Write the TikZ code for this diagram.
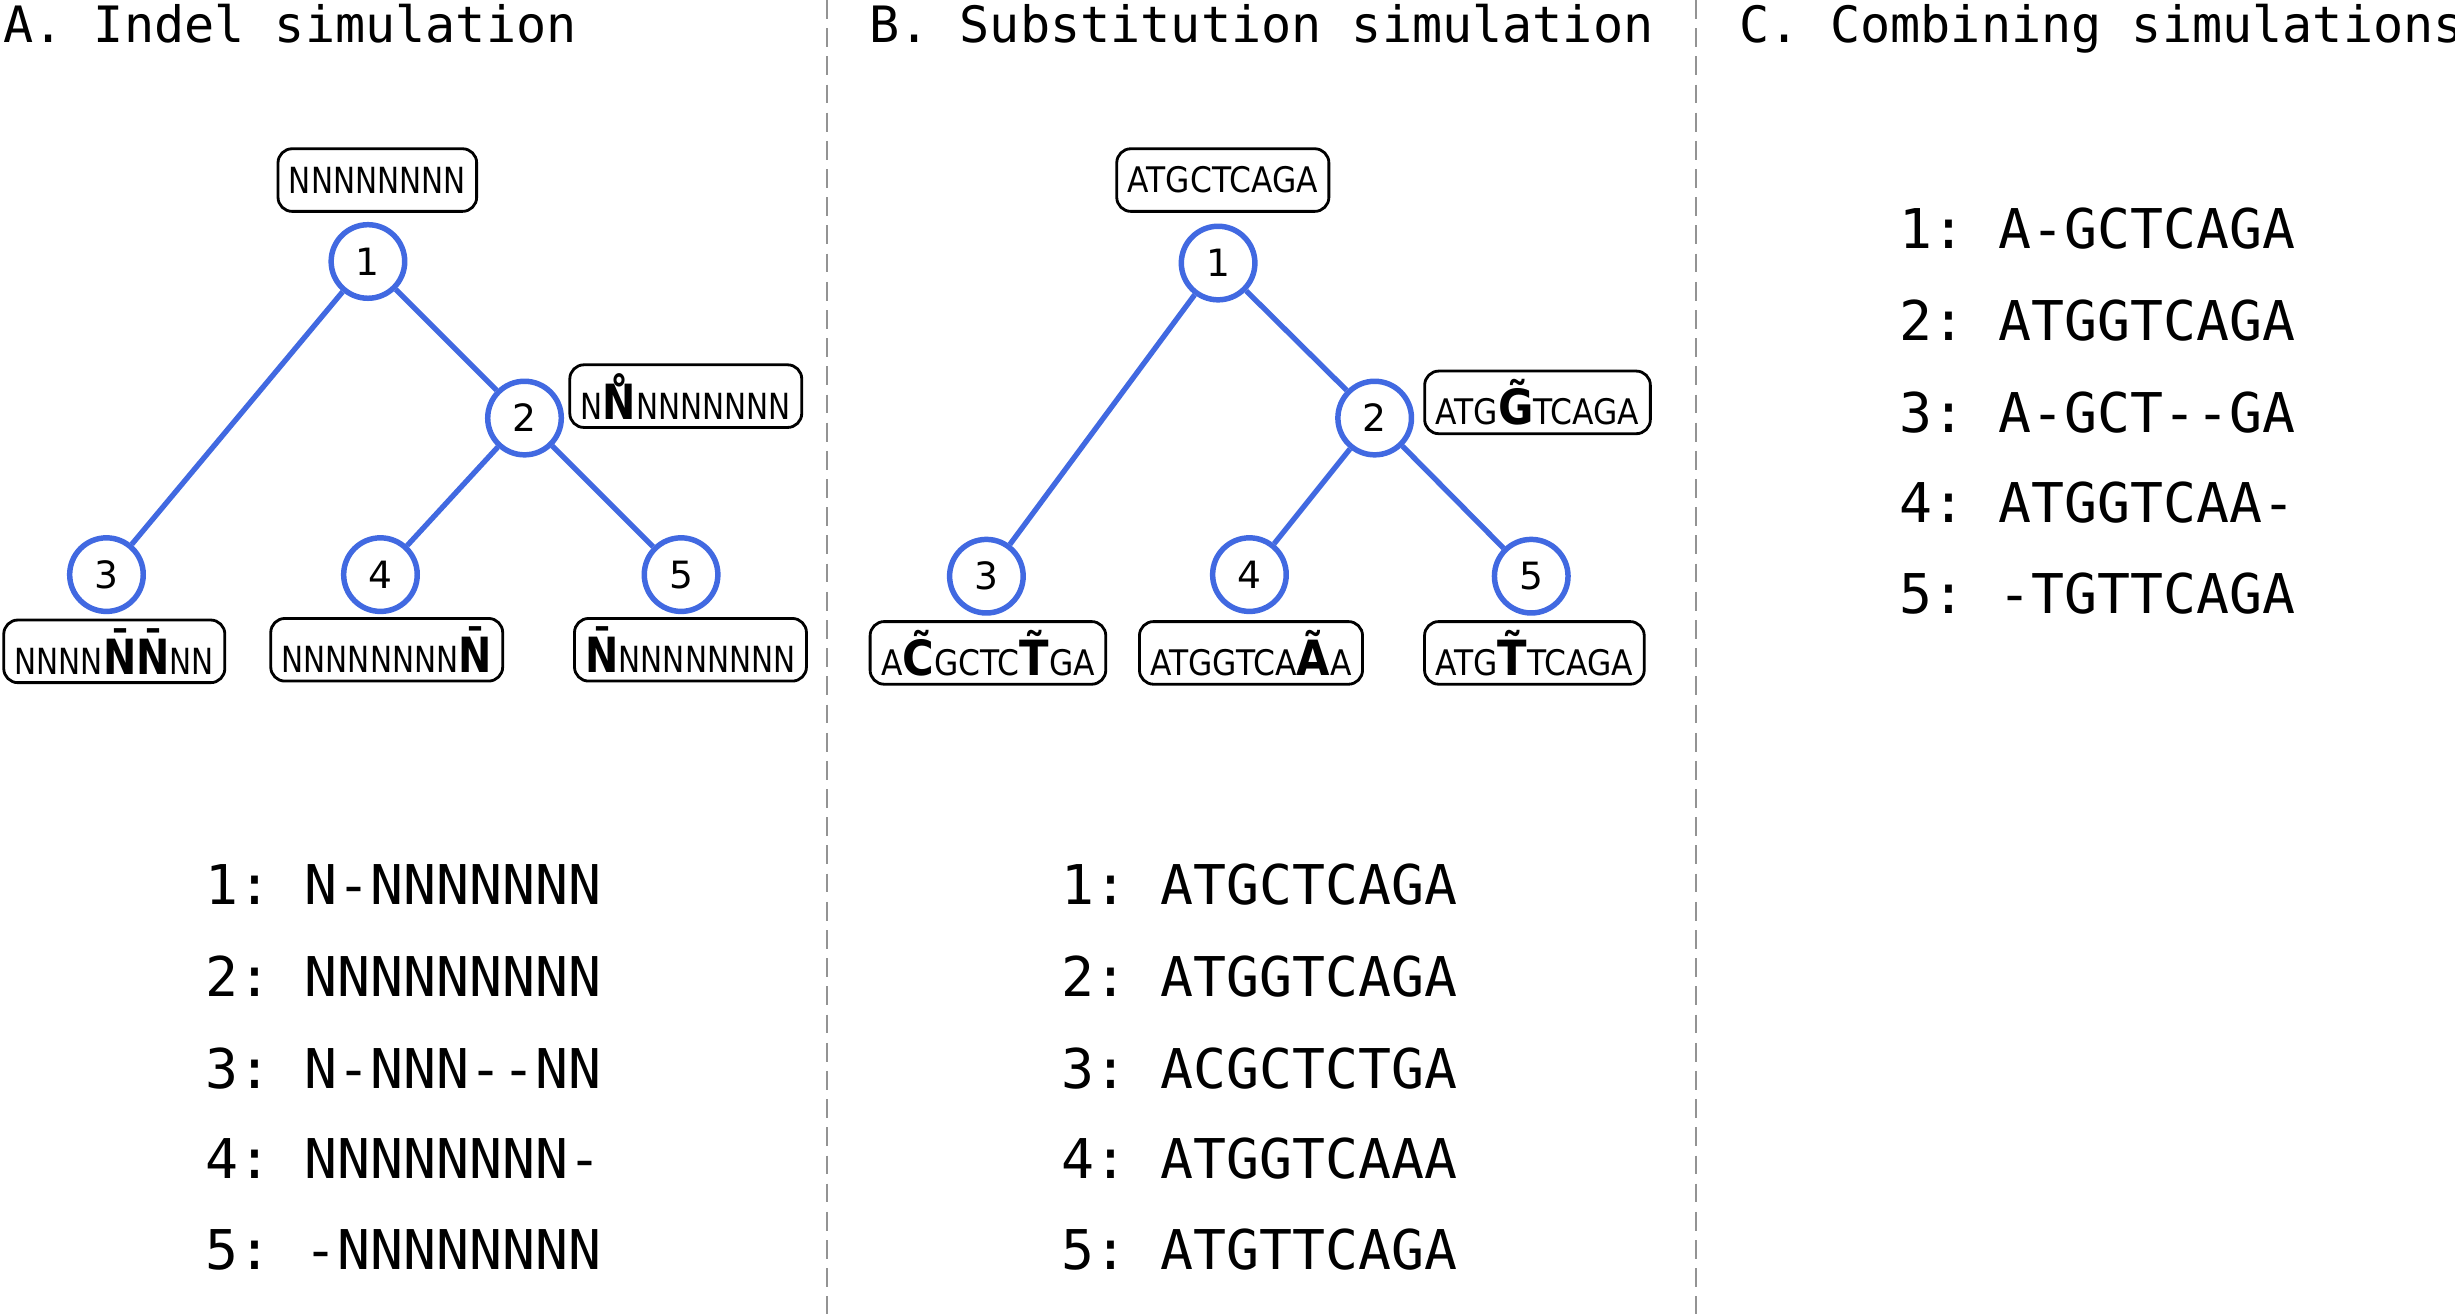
\documentclass[tikz,border=0pt]{standalone}
\usepackage{fontspec}
\setmainfont{DejaVu Sans}
\newfontfamily\monofam[Ligatures=TeXOff]{DejaVu Sans Mono}
\newfontfamily\boxfamA[FakeStretch=0.82]{DejaVu Sans}
\newfontfamily\boxfamB[FakeStretch=0.89]{DejaVu Sans}
\newcommand\bigmark[2]{{\fontsize{31}{31}\selectfont\bfseries #1#2}}
\definecolor{royal}{HTML}{4169E1}
\frenchspacing
\begin{document}
\begin{tikzpicture}[x=1pt,y=-1pt,
  tnode/.style={circle, draw=royal, line width=3.5pt, fill=white, minimum size=47pt, inner sep=0pt, font=\fontsize{24}{24}\selectfont},
  seqbox/.style={draw, rounded corners=9pt, line width=1.8pt, inner xsep=7pt, inner ysep=0pt, minimum height=40pt},
  seqA/.style={seqbox, font=\boxfamA\fontsize{23}{23}\selectfont},
  seqB/.style={seqbox, font=\boxfamB\fontsize{22.5}{22.5}\selectfont},
  edge/.style={draw=royal, line width=3.4pt},
  aln/.style={anchor=base west, inner sep=0pt, font=\monofam\fontsize{35}{35}\selectfont},
  ttl/.style={anchor=base west, inner sep=0pt, font=\monofam\fontsize{32}{32}\selectfont},
  sepline/.style={draw=gray!85, line width=1.3pt, dash pattern=on 12pt off 6pt}]
\useasboundingbox (0,0) rectangle (1568,839);
\fill[white] (0,0) rectangle (1568,839);

% separators
\draw[sepline] (528,0) -- (528,839);
\draw[sepline] (1083,0) -- (1083,839);

% titles
\node[ttl] (tA) at (2,27) {A. Indel simulation};
\node[ttl] (tB) at (555,27) {B. Substitution simulation};
\node[ttl] (tC) at (1111,27) {C. Combining simulations};

% ---- Tree A ----
\node[tnode] (a1) at (235,167) {1};
\node[tnode] (a2) at (335,267) {2};
\node[tnode] (a3) at (68,367) {3};
\node[tnode] (a4) at (243,367) {4};
\node[tnode] (a5) at (435,367) {5};
\draw[edge] (a1) -- (a3);
\draw[edge] (a1) -- (a2);
\draw[edge] (a2) -- (a4);
\draw[edge] (a2) -- (a5);

\node[seqA] (ab1) at (241,115) {NNNNNNNN};
\node[seqA] (ab2) at (438,253) {N\bigmark{N}{^^^^030a}NNNNNNN};
\node[seqA] (ab3) at (73,416) {NNNN\bigmark{N}{^^^^0304}\bigmark{N}{^^^^0304}NN};
\node[seqA] (ab4) at (247,415) {NNNNNNNN\bigmark{N}{^^^^0304}};
\node[seqA] (ab5) at (441,415) {\bigmark{N}{^^^^0304}NNNNNNNN};

% ---- Tree B ----
\node[tnode] (b1) at (778,168) {1};
\node[tnode] (b2) at (878,267) {2};
\node[tnode] (b3) at (630,368) {3};
\node[tnode] (b4) at (798,367) {4};
\node[tnode] (b5) at (978,368) {5};
\draw[edge] (b1) -- (b3);
\draw[edge] (b1) -- (b2);
\draw[edge] (b2) -- (b4);
\draw[edge] (b2) -- (b5);

\node[seqB] (bb1) at (781,115) {ATGCTCAGA};
\node[seqB] (bb2) at (982,257) {ATG\bigmark{G}{^^^^0303}TCAGA};
\node[seqB] (bb3) at (631,417) {A\bigmark{C}{^^^^0303}GCTC\bigmark{T}{^^^^0303}GA};
\node[seqB] (bb4) at (799,417) {ATGGTCA\bigmark{A}{^^^^0303}A};
\node[seqB] (bb5) at (980,417) {ATG\bigmark{T}{^^^^0303}TCAGA};

% ---- Alignments ----
\node[aln] (aa1) at (131,578) {1: N-NNNNNNN};
\node[aln] (aa2) at (131,636.5) {2: NNNNNNNNN};
\node[aln] (aa3) at (131,695) {3: N-NNN-{}-NN};
\node[aln] (aa4) at (131,753) {4: NNNNNNNN-};
\node[aln] (aa5) at (131,811) {5: -NNNNNNNN};

\node[aln] (ba1) at (678,578) {1: ATGCTCAGA};
\node[aln] (ba2) at (678,636.5) {2: ATGGTCAGA};
\node[aln] (ba3) at (678,695) {3: ACGCTCTGA};
\node[aln] (ba4) at (678,753) {4: ATGGTCAAA};
\node[aln] (ba5) at (678,811) {5: ATGTTCAGA};

\node[aln] (ca1) at (1213,159) {1: A-GCTCAGA};
\node[aln] (ca2) at (1213,217.5) {2: ATGGTCAGA};
\node[aln] (ca3) at (1213,276) {3: A-GCT-{}-GA};
\node[aln] (ca4) at (1213,334) {4: ATGGTCAA-};
\node[aln] (ca5) at (1213,392) {5: -TGTTCAGA};
\end{tikzpicture}
\end{document}
